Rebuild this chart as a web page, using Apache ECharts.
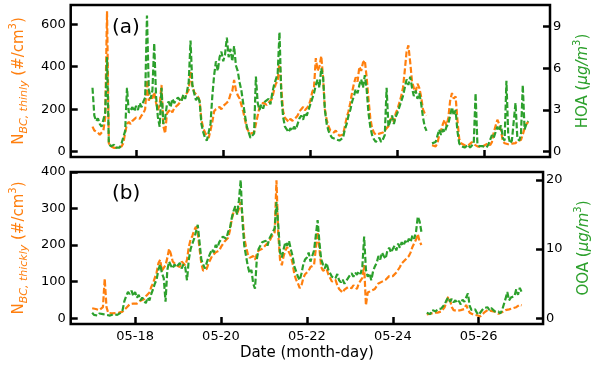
<!DOCTYPE html>
<html><head><meta charset="utf-8">
<script src="https://cdn.jsdelivr.net/npm/echarts@6/dist/echarts.min.js"></script>
<style>html,body{margin:0;padding:0;background:#fff}#c{width:600px;height:367px}</style>
</head><body><div id="c"></div>
<script>
// hours since 05-17 00:00, one value per hour (h0..h240); null = data gap
const tickHours = [24, 72, 120, 168, 216];
const tickLabels = ['05-18', '05-20', '05-22', '05-24', '05-26'];
const thinTicks = [0, 200, 400, 600];
const hoaTicks = [0, 3, 6, 9];
const thickTicks = [0, 100, 200, 300, 400];
const ooaTicks = [0, 10, 20];

const thinBC = [
118,100,95,90,80,75,100,160,660,40,25,20,18,22,20,18,25,40,90,130,140,130,145,140,
160,165,155,170,180,200,337,240,260,250,280,230,196,220,314,120,86,180,190,200,185,205,210,220,
230,245,260,255,275,290,380,310,280,270,260,240,150,110,90,75,65,100,140,190,200,205,210,200,
215,220,230,240,270,285,337,290,265,250,220,190,150,110,95,85,80,90,130,170,210,220,230,225,
220,230,240,250,290,320,330,430,300,190,160,150,140,155,145,150,160,170,190,200,210,195,205,215,
240,280,300,440,380,400,450,350,200,150,120,100,95,90,100,85,75,70,80,120,160,190,230,280,
320,350,330,400,380,420,430,350,250,160,110,90,80,75,85,80,90,100,110,120,150,160,140,180,
200,230,260,300,380,470,500,420,330,300,280,320,300,260,200,180,170,null,null,30,35,25,40,80,
100,130,150,120,160,240,276,250,260,150,60,40,35,30,25,30,38,45,35,30,25,20,22,28,
30,35,40,30,45,90,120,150,130,100,50,40,45,35,40,38,45,40,50,45,55,80,110,130,140
];
const hoa = [
4.6,2.6,2.2,2.4,2.0,1.8,2.3,2.8,6.8,0.6,0.4,0.3,0.5,0.3,0.4,0.3,0.6,0.5,1.5,4.6,2.8,3.0,3.2,2.9,
3.3,3.0,3.5,3.2,3.6,3.9,9.8,4.5,3.8,4.4,7.8,4.0,2.5,1.8,4.6,2.0,2.4,3.4,3.6,3.2,3.8,3.5,3.7,3.9,
4.0,3.6,4.1,3.8,4.3,5.0,8.0,4.8,4.2,3.7,4.0,3.6,2.0,1.4,1.0,0.8,0.9,2.0,4.0,5.5,6.5,5.8,6.8,7.2,
6.5,7.0,8.2,6.8,7.4,6.5,7.6,6.2,5.8,5.0,4.4,3.5,2.6,1.8,1.4,1.0,0.9,1.3,5.4,3.5,3.0,3.4,3.1,3.6,
3.5,3.8,3.4,4.2,4.8,5.2,5.6,8.6,4.0,2.5,1.8,1.6,1.4,1.7,1.5,1.8,1.6,2.0,2.4,2.6,2.3,2.8,2.6,3.0,
3.4,3.8,4.2,4.8,5.2,4.6,6.0,5.4,3.0,2.0,1.5,1.2,1.0,1.1,0.9,1.0,0.8,0.9,1.0,1.6,2.0,2.6,3.0,3.6,
4.0,4.5,4.2,4.8,5.2,4.6,5.5,4.5,2.8,1.8,1.2,0.9,0.7,0.8,1.0,0.7,0.9,1.2,4.6,1.8,2.2,2.6,2.0,2.5,
2.8,3.2,3.6,4.0,4.6,5.2,4.8,5.4,4.6,4.0,4.4,3.8,4.2,3.5,2.5,1.8,1.5,null,null,0.6,0.5,0.7,0.8,1.6,
1.2,1.6,1.4,1.8,2.0,2.6,3.2,2.6,3.0,1.5,0.6,0.4,0.5,0.3,0.4,0.5,0.3,0.4,0.6,4.2,0.6,0.4,0.3,0.4,
0.4,0.3,0.5,0.6,1.2,1.0,1.4,1.8,1.5,1.9,1.0,0.8,5.1,1.2,0.6,0.8,0.7,3.5,1.0,0.8,1.2,4.8,1.6,2.0,2.2
];
const thickBC = [
27,22,25,28,22,24,30,108,30,14,12,13,12,14,12,15,16,18,22,28,32,38,35,40,
42,40,45,48,44,52,60,55,70,85,95,110,125,150,160,130,135,145,165,190,175,155,150,145,
150,140,155,150,145,160,195,215,225,240,250,235,190,150,130,125,135,150,160,170,165,180,175,185,
195,200,210,205,220,240,270,290,300,285,300,318,280,220,195,175,165,160,170,160,175,185,180,190,
190,200,205,210,220,225,235,377,230,160,145,170,185,195,180,170,150,120,105,95,82,90,110,120,
125,130,140,135,145,150,236,190,140,130,125,135,120,110,100,95,105,90,80,75,70,78,80,85,
88,82,90,85,80,95,90,110,145,35,70,65,75,70,80,85,95,90,100,95,105,110,115,120,
115,120,125,130,140,150,145,160,155,170,180,195,190,215,230,210,200,null,null,10,8,12,10,15,
12,15,14,18,20,30,45,59,50,30,22,18,20,18,22,20,25,36,25,15,12,10,10,8,
6,5,10,15,20,22,18,20,22,18,15,12,14,16,18,22,25,24,28,27,30,30,33,37,35
];
const ooa = [
0.8,0.5,0.6,0.4,0.7,0.5,0.6,0.8,0.5,0.6,0.4,0.5,0.6,0.7,0.5,0.6,0.8,1.2,2.5,3.2,3.8,3.5,4.0,3.2,
3.8,3.0,3.4,2.6,3.0,2.5,2.2,3.0,2.6,3.5,4.2,5.0,5.6,7.0,7.8,6.5,5.8,2.4,7.0,8.2,7.6,7.2,7.8,7.4,
7.5,8.0,7.2,7.8,7.4,5.5,8.5,10.0,10.8,11.5,12.5,13.5,11.0,8.5,7.8,7.2,8.0,8.8,9.4,10.0,9.5,10.6,10.2,11.0,
11.2,11.8,12.0,11.5,12.5,13.0,14.5,15.5,16.2,15.0,17.0,20.0,14.0,10.5,9.0,7.5,6.5,7.0,5.0,4.3,8.5,10.0,10.5,11.0,
10.8,11.2,10.5,11.5,12.0,12.5,13.0,16.8,13.5,9.5,8.8,10.0,11.0,10.5,11.2,10.0,9.0,7.5,6.8,6.0,5.5,6.5,7.8,8.5,
8.8,9.5,8.2,9.0,9.8,10.0,14.2,11.0,8.5,7.8,7.2,8.0,7.0,6.5,6.0,6.2,5.8,6.4,5.5,5.2,5.6,5.0,5.4,5.8,
6.2,6.5,6.0,6.6,6.3,6.8,6.4,7.5,11.8,7.0,6.0,6.5,5.5,6.8,7.5,8.0,9.0,8.5,9.5,9.0,8.6,9.8,10.2,9.5,
10.0,10.5,9.8,10.8,10.2,11.0,10.5,11.2,10.8,11.5,11.0,12.0,11.5,12.5,14.7,14.0,12.5,null,null,0.8,1.0,0.6,1.2,1.0,
1.0,1.3,1.1,1.4,1.5,2.0,2.6,3.0,2.4,2.8,2.3,2.6,2.2,2.5,2.0,2.7,2.4,3.0,3.6,1.8,1.2,1.0,1.3,0.8,
0.5,0.7,1.2,1.5,1.3,1.6,1.2,1.5,1.4,1.0,0.8,1.0,0.7,1.1,1.0,2.8,3.8,2.6,3.0,2.8,3.2,4.2,3.4,4.4,3.8
];

const ORANGE = '#ff7f0e', GREEN = '#2ca02c', FONT = 'DejaVu Sans';
const pairs = arr => arr.map((v, i) => [i, v]);
function tick(vals) {
  return {show: true, inside: true, length: 7, lineStyle: {color: '#000', width: 2.5}, customValues: vals};
}
function lab(vals, extra) {
  return Object.assign({show: true, customValues: vals, color: '#000', fontSize: 13, fontFamily: FONT, margin: 5}, extra || {});
}

function richName(color) {
  return {
    color: color, fontFamily: FONT, fontSize: 15,
    rich: {
      n: {color: color, fontFamily: FONT, fontSize: 15, lineHeight: 22, verticalAlign: 'middle'},
      s: {color: color, fontFamily: FONT, fontSize: 11, fontStyle: 'italic', lineHeight: 22, verticalAlign: 'bottom'},
      i: {color: color, fontFamily: FONT, fontSize: 15, fontStyle: 'italic', lineHeight: 22, verticalAlign: 'middle'},
      p: {color: color, fontFamily: FONT, fontSize: 10, lineHeight: 22, verticalAlign: 'top'}
    }
  };
}

function xAxis(gi, showLabels) {
  const ax = {
    type: 'value', gridIndex: gi, min: -12, max: 252,
    axisLine: {show: false, onZero: false}, splitLine: {show: false},
    axisTick: tick(tickHours),
    axisLabel: lab(tickHours, {show: showLabels, margin: 6,
      formatter: function (v) { const k = tickHours.indexOf(Math.round(v)); return k >= 0 ? tickLabels[k] : ''; }})
  };
  if (showLabels) {
    ax.name = 'Date (month-day)';
    ax.nameLocation = 'middle';
    ax.nameGap = 22;
    ax.nameTextStyle = {color: '#000', fontSize: 15, fontFamily: FONT};
  }
  return ax;
}
function yAxis(gi, pos, min, max, ticks, name, color, gap) {
  return {
    type: 'value', gridIndex: gi, position: pos, min: min, max: max,
    axisLine: {show: false, onZero: false}, splitLine: {show: false},
    axisTick: tick(ticks), axisLabel: lab(ticks, {margin: pos === 'left' ? 5 : 3}),
    name: name, nameLocation: 'middle', nameRotate: 90, nameGap: gap,
    nameTextStyle: richName(color)
  };
}
function line(xi, yi, data, color) {
  return {
    type: 'line', xAxisIndex: xi, yAxisIndex: yi, data: pairs(data),
    showSymbol: false, connectNulls: false,
    lineStyle: {color: color, width: 2.2, type: [6, 2.5]}, itemStyle: {color: color}
  };
}

const chart = echarts.init(document.getElementById('c'));
chart.setOption({
  animation: false,
  backgroundColor: '#fff',
  grid: [
    {left: 65, right: 50, top: 5, height: 152, show: true, borderColor: '#000', borderWidth: 2.5, backgroundColor: 'transparent'},
    {left: 65, right: 50, top: 172, height: 152, show: true, borderColor: '#000', borderWidth: 2.5, backgroundColor: 'transparent'}
  ],
  xAxis: [xAxis(0, false), xAxis(1, true)],
  yAxis: [
    yAxis(0, 'left', -25, 690, thinTicks, '{n|N}{s|BC, thinly}{n| (#/cm}{p|3}{n|)}', ORANGE, 36),
    yAxis(0, 'right', -0.38, 10.55, hoaTicks, '{n|HOA (}{i|μg/m}{p|3}{n|)}', GREEN, 20),
    yAxis(1, 'left', -16, 400, thickTicks, '{n|N}{s|BC, thickly}{n| (#/cm}{p|3}{n|)}', ORANGE, 36),
    yAxis(1, 'right', -0.82, 21.14, ooaTicks, '{n|OOA (}{i|μg/m}{p|3}{n|)}', GREEN, 20)
  ],
  series: [
    line(0, 0, thinBC, ORANGE),
    line(0, 1, hoa, GREEN),
    line(1, 2, thickBC, ORANGE),
    line(1, 3, ooa, GREEN)
  ],
  graphic: [
    {type: 'text', left: 112, top: 18, style: {text: '(a)', fontSize: 20, fontFamily: FONT, fill: '#000'}},
    {type: 'text', left: 112, top: 184, style: {text: '(b)', fontSize: 20, fontFamily: FONT, fill: '#000'}}
  ]
});
</script></body></html>
